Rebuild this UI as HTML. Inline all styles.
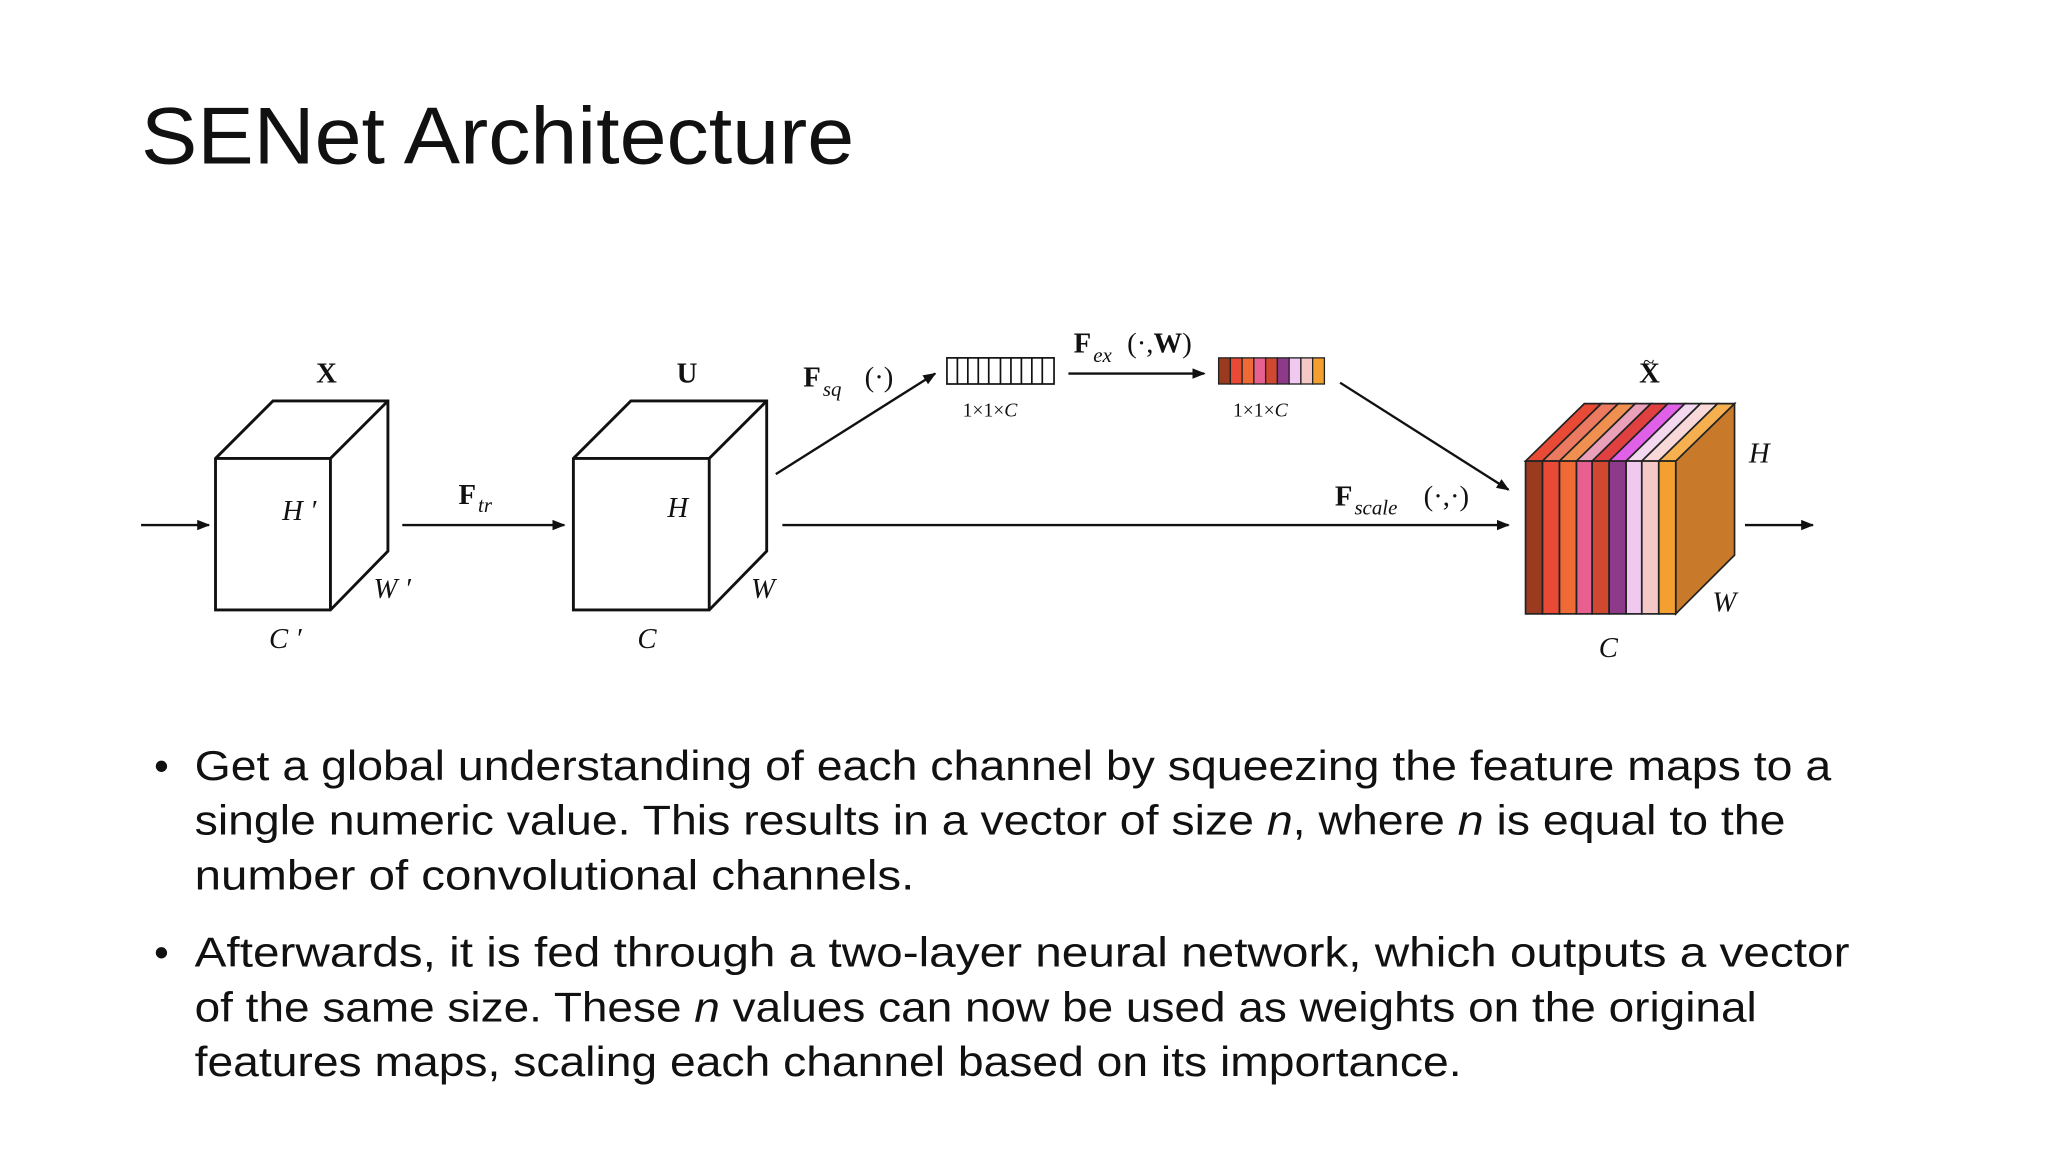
<!DOCTYPE html>
<html><head><meta charset="utf-8"><style>
html,body{margin:0;padding:0;background:#fff;width:2048px;height:1152px;overflow:hidden}
svg{display:block}
.t{font-family:"Liberation Sans",sans-serif;fill:#111}
.m{font-family:"Liberation Serif",serif;fill:#111}
.i{font-style:italic}
.b{font-weight:bold}
</style></head><body>
<svg width="2048" height="1152" viewBox="0 0 1568 882" xmlns="http://www.w3.org/2000/svg">
<defs><marker id="ah" markerWidth="10" markerHeight="8" refX="9" refY="4" orient="auto" markerUnits="userSpaceOnUse"><path d="M0,0 L10,4 L0,8 Z" fill="#111"/></marker></defs>
<text class="t" x="108" y="125" font-size="62" textLength="546" lengthAdjust="spacingAndGlyphs" fill="#222">SENet Architecture</text>

<g stroke="#111" stroke-width="2.2" fill="#fff">
<!-- cube X -->
<path d="M165,351 L209,307 L297,307 L297,422 L253,467 L165,467 Z"/>
<path d="M165,351 L253,351 L297,307 M253,351 L253,467" fill="none"/>
<!-- cube U -->
<path d="M439,351 L483,307 L587,307 L587,422 L543,467 L439,467 Z"/>
<path d="M439,351 L543,351 L587,307 M543,351 L543,467" fill="none"/>
</g>
<g stroke="#111" stroke-width="1.8" fill="none" marker-end="url(#ah)">
<line x1="108" y1="402" x2="160" y2="402"/>
<line x1="308" y1="402" x2="432" y2="402"/>
<line x1="594" y1="363" x2="716" y2="286"/>
<line x1="818" y1="286" x2="922" y2="286"/>
<line x1="1026" y1="293" x2="1155" y2="375"/>
<line x1="599" y1="402" x2="1155" y2="402"/>
<line x1="1336" y1="402" x2="1388" y2="402"/>
</g>

<!-- vector 1 -->
<g stroke="#111" stroke-width="1.3">
<rect x="725" y="274" width="82" height="20" fill="#fff"/>
<path d="M733,274v20M741,274v20M749,274v20M757,274v20M766,274v20M774,274v20M782,274v20M790,274v20M798,274v20"/>
</g>
<!-- vector 2 -->
<g stroke="#222" stroke-width="1">
<rect x="933" y="274" width="9" height="20" fill="#9a3a1e"/>
<rect x="942" y="274" width="9" height="20" fill="#e84a35"/>
<rect x="951" y="274" width="9" height="20" fill="#f06a35"/>
<rect x="960" y="274" width="9" height="20" fill="#e8608f"/>
<rect x="969" y="274" width="9" height="20" fill="#d04830"/>
<rect x="978" y="274" width="9" height="20" fill="#8e3a8a"/>
<rect x="987" y="274" width="9" height="20" fill="#f0c8f0"/>
<rect x="996" y="274" width="9" height="20" fill="#f5c8c8"/>
<rect x="1005" y="274" width="9" height="20" fill="#f3a030"/>
</g>

<!-- output cube -->
<g stroke="#222" stroke-width="1.3">
<path d="M1283,353 L1328,309 L1328,425 L1283,470 Z" fill="#c87a2a"/>
<path d="M1168,353 L1213,309 L1226,309 L1181,353 Z" fill="#e84a35"/>
<path d="M1181,353 L1226,309 L1239,309 L1194,353 Z" fill="#ec7a60"/>
<path d="M1194,353 L1239,309 L1252,309 L1207,353 Z" fill="#f09050"/>
<path d="M1207,353 L1252,309 L1264,309 L1219,353 Z" fill="#eaa0b8"/>
<path d="M1219,353 L1264,309 L1277,309 L1232,353 Z" fill="#e04040"/>
<path d="M1232,353 L1277,309 L1290,309 L1245,353 Z" fill="#e060e8"/>
<path d="M1245,353 L1290,309 L1302,309 L1257,353 Z" fill="#f4d8f0"/>
<path d="M1257,353 L1302,309 L1315,309 L1270,353 Z" fill="#f8d8d8"/>
<path d="M1270,353 L1315,309 L1328,309 L1283,353 Z" fill="#f6b050"/>
<rect x="1168" y="353" width="13" height="117" fill="#9a3a1e"/>
<rect x="1181" y="353" width="13" height="117" fill="#e84a35"/>
<rect x="1194" y="353" width="13" height="117" fill="#f06a35"/>
<rect x="1207" y="353" width="12" height="117" fill="#e8608f"/>
<rect x="1219" y="353" width="13" height="117" fill="#d04830"/>
<rect x="1232" y="353" width="13" height="117" fill="#8e3a8a"/>
<rect x="1245" y="353" width="12" height="117" fill="#f0c8f0"/>
<rect x="1257" y="353" width="13" height="117" fill="#f5c8c8"/>
<rect x="1270" y="353" width="13" height="117" fill="#f3a030"/>
</g>

<!-- math labels -->
<g class="m" font-size="22">
<text x="242" y="293" class="b">X</text>
<text x="518" y="293" class="b">U</text>
<text x="1255" y="293" class="b">X</text>
<text x="1258" y="282" font-size="16">~</text>
<text x="216" y="398" class="i">H ′</text>
<text x="286" y="458" class="i">W ′</text>
<text x="206" y="496" class="i">C ′</text>
<text x="511" y="396" class="i">H</text>
<text x="575" y="458" class="i">W</text>
<text x="488" y="496" class="i">C</text>
<text x="1339" y="354" class="i">H</text>
<text x="1311" y="468" class="i">W</text>
<text x="1224" y="503" class="i">C</text>
<text x="351" y="386" class="b">F</text><text x="366" y="392" class="i" font-size="16">tr</text>
<text x="615" y="296" class="b">F</text><text x="630" y="303" class="i" font-size="16">sq</text><text x="662" y="296">(·)</text>
<text x="822" y="270" class="b">F</text><text x="837" y="277" class="i" font-size="16">ex</text><text x="863" y="270">(·,<tspan class="b">W</tspan>)</text>
<text x="1022" y="387" class="b">F</text><text x="1037" y="394" class="i" font-size="16">scale</text><text x="1090" y="387">(·,·)</text>
<text x="737" y="319" font-size="15">1×1×<tspan class="i">C</tspan></text>
<text x="944" y="319" font-size="15">1×1×<tspan class="i">C</tspan></text>
</g>

<!-- bullets -->
<g class="t" font-size="32" fill="#111">
<text x="118" y="597">•</text>
<text x="149" y="597" textLength="1253" lengthAdjust="spacingAndGlyphs">Get a global understanding of each channel by squeezing the feature maps to a</text>
<text x="149" y="639" textLength="1218" lengthAdjust="spacingAndGlyphs">single numeric value. This results in a vector of size <tspan class="i">n</tspan>, where <tspan class="i">n</tspan> is equal to the</text>
<text x="149" y="681" textLength="551" lengthAdjust="spacingAndGlyphs">number of convolutional channels.</text>
<text x="118" y="740">•</text>
<text x="149" y="740" textLength="1267" lengthAdjust="spacingAndGlyphs">Afterwards, it is fed through a two-layer neural network, which outputs a vector</text>
<text x="149" y="782" textLength="1196" lengthAdjust="spacingAndGlyphs">of the same size. These <tspan class="i">n</tspan> values can now be used as weights on the original</text>
<text x="149" y="824" textLength="970" lengthAdjust="spacingAndGlyphs">features maps, scaling each channel based on its importance.</text>
</g>
</svg>
</body></html>
